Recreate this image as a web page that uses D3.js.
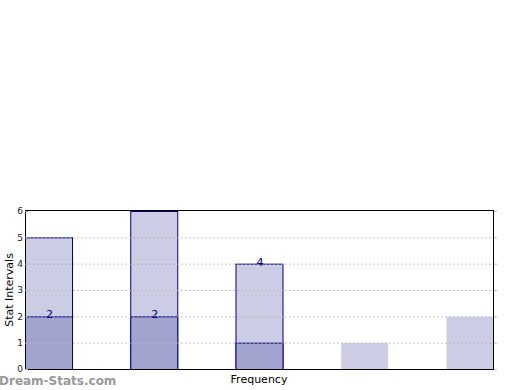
<!DOCTYPE html>
<html>
<head>
<meta charset="utf-8">
<script src="https://cdn.jsdelivr.net/npm/d3@7"></script>
<style>
	body { margin: 0; background: #fff; }
	text { font-family: "DejaVu Sans", sans-serif; }
</style>
</head>
<body>
<div id="chart"></div>
<script>
	// данные
	var categories = ['1', '2', '3', '4', '5'];
	var backValues = [5, 6, 4, 1, 2];
	var frontValues = [2, 2, 1, 0, 0];
	var outlined = [true, true, true, false, false];
	var barLabels = [
		{ i: 0, v: 2, t: '2' },
		{ i: 1, v: 2, t: '2' },
		{ i: 2, v: 4, t: '4' }
	];
	var yTicks = [0, 1, 2, 3, 4, 5, 6];

	var W = 520, H = 390;
	var pLeft = 25, pRight = 493, pTop = 211, pBottom = 369;
	var barW = 47;

	var svg = d3.select('#chart')
		.append('svg')
		.attr('width', W)
		.attr('height', H);

	var x = d3.scaleLinear()
		.domain([0, categories.length - 1])
		.range([pLeft, pRight - barW]);

	var y = d3.scaleLinear()
		.domain([0, 6])
		.range([pBottom, pTop]);

	// задние столбцы
	svg.selectAll('.back')
		.data(backValues)
		.enter()
		.append('rect')
		.attr('class', 'back')
		.attr('x', function (d, i) { return x(i) + 0.5; })
		.attr('y', function (d) { return y(d) + 0.5; })
		.attr('width', barW)
		.attr('height', function (d) { return y(0) - y(d); })
		.attr('fill', 'rgb(204,204,228)')
		.attr('stroke', function (d, i) { return outlined[i] ? 'rgb(0,0,128)' : 'none'; })
		.attr('stroke-width', 1);

	// передние столбцы
	svg.selectAll('.front')
		.data(frontValues)
		.enter()
		.append('rect')
		.attr('class', 'front')
		.attr('x', function (d, i) { return x(i) + 0.5; })
		.attr('y', function (d) { return y(d) + 0.5; })
		.attr('width', barW)
		.attr('height', function (d) { return y(0) - y(d); })
		.attr('fill', 'rgb(163,163,208)')
		.attr('stroke', function (d, i) { return outlined[i] && d > 0 ? 'rgb(0,0,128)' : 'none'; })
		.attr('stroke-width', 1);

	// сетка
	svg.selectAll('.grid')
		.data(yTicks.filter(function (d) { return d > 0 && d < 6; }))
		.enter()
		.append('line')
		.attr('x1', pLeft)
		.attr('x2', pRight)
		.attr('y1', function (d) { return y(d) + 0.5; })
		.attr('y2', function (d) { return y(d) + 0.5; })
		.attr('stroke', 'rgb(180,180,180)')
		.attr('stroke-opacity', 0.8)
		.attr('stroke-dasharray', '2,2');

	// рамка
	svg.append('rect')
		.attr('x', pLeft + 0.5)
		.attr('y', pTop - 0.5)
		.attr('width', pRight - pLeft)
		.attr('height', pBottom - pTop + 1)
		.attr('fill', 'none')
		.attr('stroke', '#000')
		.attr('stroke-width', 1);

	// ось Y
	var yAxis = d3.axisLeft(y).tickValues(yTicks).tickFormat(d3.format('d')).tickSize(3).tickPadding(2);
	var gy = svg.append('g')
		.attr('transform', 'translate(' + (pLeft + 3) + ',0)')
		.call(yAxis);
	gy.select('.domain').remove();
	gy.selectAll('line').attr('stroke', '#aaa');
	gy.selectAll('text')
		.attr('font-size', 9)
		.attr('fill', '#222')
		.attr('x', -5);

	// тики справа
	var gr = svg.append('g')
		.attr('transform', 'translate(' + (pRight + 1) + ',0)')
		.call(d3.axisRight(y).tickValues(yTicks).tickSize(3).tickFormat(''));
	gr.select('.domain').remove();
	gr.selectAll('line').attr('stroke', '#bbb');

	// подписи значений
	svg.selectAll('.lbl')
		.data(barLabels)
		.enter()
		.append('text')
		.attr('x', function (d) { return x(d.i) + barW / 2 + 1; })
		.attr('y', function (d) { return y(d.v) + 2; })
		.attr('text-anchor', 'middle')
		.attr('font-size', 11)
		.attr('fill', 'rgb(0,0,128)')
		.text(function (d) { return d.t; });

	// заголовки осей
	svg.append('text')
		.attr('transform', 'translate(13,' + ((pTop + pBottom) / 2) + ') rotate(-90)')
		.attr('text-anchor', 'middle')
		.attr('font-size', 11)
		.attr('fill', '#000')
		.text('Stat Intervals');

	svg.append('text')
		.attr('x', 259)
		.attr('y', 383)
		.attr('text-anchor', 'middle')
		.attr('font-size', 11)
		.attr('fill', '#000')
		.text('Frequency');

	svg.append('text')
		.attr('x', -1)
		.attr('y', 385)
		.attr('font-size', 12)
		.attr('font-weight', 'bold')
		.attr('fill', '#999')
		.text('Dream-Stats.com');
</script>
</body>
</html>
